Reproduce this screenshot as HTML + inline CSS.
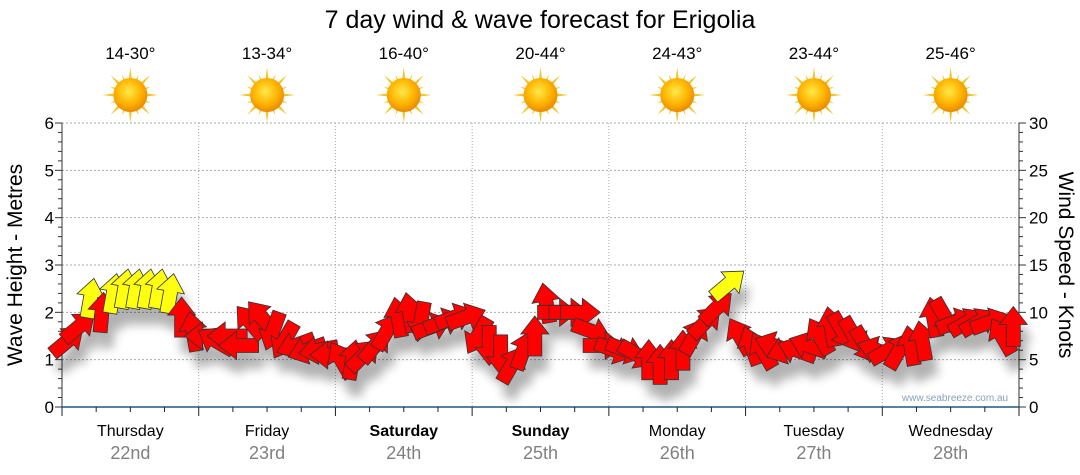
<!DOCTYPE html>
<html><head><meta charset="utf-8"><style>
body{margin:0;background:#fff;}
svg{display:block;font-family:"Liberation Sans",sans-serif;}
</style></head><body>
<svg id="chart" width="1080" height="475" viewBox="0 0 1080 475">
<defs>
<filter id="sh" x="-50%" y="-50%" width="200%" height="200%"><feGaussianBlur stdDeviation="5"/></filter>
<radialGradient id="sunG" cx="45%" cy="40%" r="60%"><stop offset="0" stop-color="#ffe94a"/><stop offset="0.6" stop-color="#ffb400"/><stop offset="1" stop-color="#e88a00"/></radialGradient>
</defs>
<text x="540" y="28" text-anchor="middle" font-size="25" fill="#000">7 day wind &amp; wave forecast for Erigolia</text>
<g id="grid"></g>
<g id="axes"></g>
<g id="shadows" filter="url(#sh)" opacity="0.3"></g>
<g id="arrows"></g>
<g id="topg"></g>
<text x="955" y="401" text-anchor="middle" font-size="10" fill="#8aa0b8">www.seabreeze.com.au</text>
<text transform="translate(22,265) rotate(-90)" text-anchor="middle" font-size="21" fill="#000">Wave Height - Metres</text>
<text transform="translate(1059,265) rotate(90)" text-anchor="middle" font-size="21" fill="#000">Wind Speed - Knots</text>
</svg>
<script>
const days = ["Thursday","Friday","Saturday","Sunday","Monday","Tuesday","Wednesday"];
const dates = ["22nd","23rd","24th","25th","26th","27th","28th"];
const boldDays = [false,false,true,true,false,false,false];
const temps = ["14-30°","13-34°","16-40°","20-44°","24-43°","23-44°","25-46°"];
const waveTicks = [0,1,2,3,4,5,6];
const windTicks = [0,5,10,15,20,25,30];
const waveHeight = [
1.4,1.7,2.3,2.0,2.4,2.5,2.5,2.5,2.5,2.4,1.9,1.6,
1.5,1.4,1.5,1.3,1.8,1.9,1.6,1.4,1.3,1.2,1.2,1.1,
1.0,1.0,1.1,1.3,1.6,1.9,2.0,1.8,1.7,1.8,1.9,1.9,
1.5,1.3,1.1,0.9,1.2,1.5,2.2,2.0,2.0,2.0,1.6,1.3,
1.2,1.2,1.1,1.0,0.9,1.0,1.2,1.5,1.8,2.1,2.6,1.5,
1.3,1.2,1.3,1.2,1.2,1.3,1.5,1.7,1.6,1.5,1.3,1.2,
1.2,1.2,1.3,1.4,1.9,1.9,1.8,1.8,1.8,1.8,1.5,1.7];
const windDir = [
-40,-40,-80,-85,-80,-80,-80,-80,-80,-80,-90,-100,
180,-150,180,180,-130,-130,110,120,160,160,170,180,
-120,-80,-45,-50,-60,-100,-100,100,-20,-20,-20,-20,
120,90,90,-60,-70,-90,-100,0,0,0,20,0,
20,20,30,-90,-90,-90,-90,-60,-45,-45,-40,-120,
-110,-120,-160,160,-160,-160,-120,-100,60,60,60,200,
-30,-60,-100,-100,-100,60,-20,-30,-30,-20,-120,-90];
const windSpeed = [
10,10,16,11,16,16,16,16,16,16,11,10,
9,9,9,9,10,10,9,9,8,8,8,7,
8,8,8,9,9,11,11,10,10,10,10,10,
9,8,8,7,8,9,10,10,10,10,9,8,
8,8,8,8,7,8,8,9,10,11,15,9,
8,8,8,8,8,8,9,9,9,8,8,8,
8,8,8,9,10,10,9,9,9,9,9,9];

const NS="http://www.w3.org/2000/svg";
const X0=62,X1=1019,Y0=407,Y6=123;
const dayW=(X1-X0)/7;
const perDay=12;
const yW=v=>Y0-(Y0-Y6)*v/6;
const yK=v=>Y0-(Y0-Y6)*v/30;
const xS=i=>X0+(i+0.5)*dayW/perDay;
function mk(tag,attrs,parent){const e=document.createElementNS(NS,tag);for(const k in attrs)e.setAttribute(k,attrs[k]);parent.appendChild(e);return e;}
const gridG=document.getElementById('grid'),axesG=document.getElementById('axes'),topG=document.getElementById('topg');
waveTicks.forEach(v=>{
 if(v>0){const g=mk('line',{x1:X0,x2:X1,y1:yW(v),y2:yW(v),stroke:'#aaa','stroke-dasharray':'2,2'},gridG);
 
 }
 const t=mk('text',{x:X0-8,y:yW(v)+6,'text-anchor':'end','font-size':17,fill:'#000'},axesG);t.textContent=v;
 
 
});
for(let v=0;v<=6.001;v+=0.2){const big=Math.abs(v-Math.round(v))<0.01;mk('line',{x1:X0-(big?7:4),x2:X0,y1:yW(v),y2:yW(v),stroke:'#333'},axesG);}
mk('line',{x1:X0,x2:X0,y1:Y6,y2:Y0,stroke:'#333'},axesG);
mk('line',{x1:X1,x2:X1,y1:Y6,y2:Y0,stroke:'#333'},axesG);
for(let v=0;v<=30;v++){const big=v%5==0;mk('line',{x1:X1,x2:X1+(big?7:4),y1:yK(v),y2:yK(v),stroke:'#333'},axesG);}
windTicks.forEach(v=>{const t=mk('text',{x:X1+10,y:yK(v)+6,'font-size':17,fill:'#000'},axesG);t.textContent=v;
 
 });
for(let d=1;d<7;d++){const g=mk('line',{x1:X0+d*dayW,x2:X0+d*dayW,y1:Y6,y2:Y0,stroke:'#aaa','stroke-dasharray':'1,2'},gridG);
 
 }
mk('line',{x1:X0,x2:X1,y1:Y0,y2:Y0,stroke:'#1a5a80','stroke-width':1.5},axesG);
for(let q=0;q<=28;q++){const x=X0+q*dayW/4;mk('line',{x1:x,x2:x,y1:Y0,y2:Y0+(q%4==0?9:5),stroke:'#222'},axesG);}
days.forEach((d,i)=>{
 const cx=X0+(i+0.5)*dayW;
 const t=mk('text',{x:cx,y:436,'text-anchor':'middle','font-size':16,'font-weight':boldDays[i]?'bold':'normal',fill:'#000'},axesG);t.textContent=d;
 
 
 const t2=mk('text',{x:cx,y:459,'text-anchor':'middle','font-size':18,fill:'#808080'},axesG);t2.textContent=dates[i];
 
 
 const t3=mk('text',{x:cx,y:59,'text-anchor':'middle','font-size':17,fill:'#000'},topG);t3.textContent=temps[i];
 
 
 const s=mk('g',{transform:`translate(${cx},95)`},topG);
 
 
 for(let k=0;k<16;k++){const a=k*22.5,L=k%2?22:28;mk('polygon',{points:`-3.5,0 3.5,0 0,${-L}`,fill:'#f2c428',transform:`rotate(${a})`},s);}
 mk('circle',{r:17,fill:'url(#sunG)'},s);
});
const shadowsG=document.getElementById('shadows'),arrowsG=document.getElementById('arrows');
const shape="-20,-7 2,-7 2,-14 20,0 2,14 2,7 -20,7";
waveHeight.forEach((h,i)=>{
 const x=xS(i),y=yW(h);
 mk('polygon',{points:shape,fill:'#000',transform:`translate(${x+6},${y+16}) rotate(${windDir[i]})`},shadowsG);
 const p=mk('polygon',{points:shape,fill:windSpeed[i]>=15?'#ffff10':'#ff0000',stroke:'#333','stroke-width':0.8,transform:`translate(${x},${y}) rotate(${windDir[i]})`},arrowsG);
 
 
});
</script>
</body></html>
